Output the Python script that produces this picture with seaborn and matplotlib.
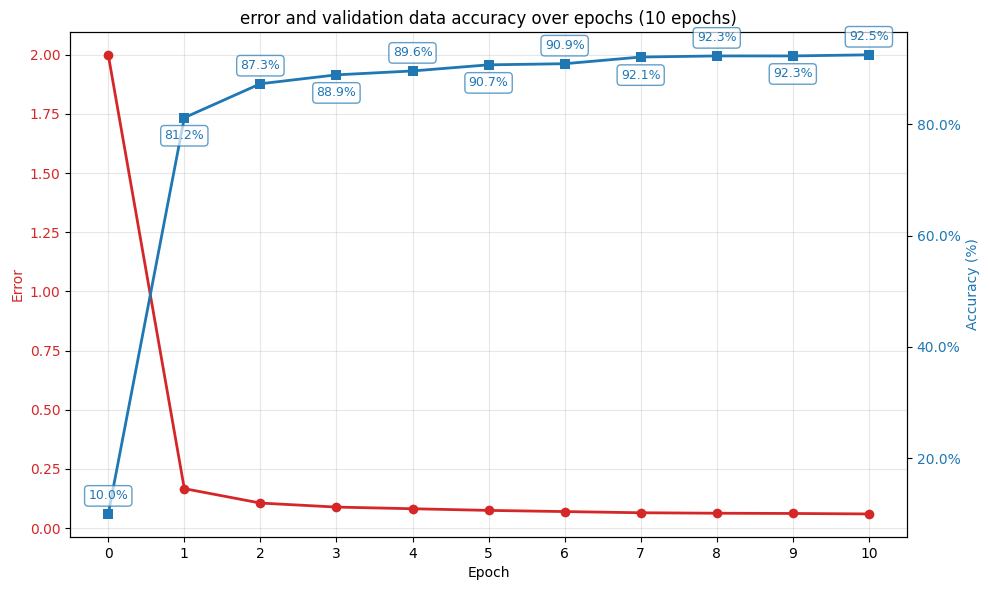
import matplotlib
matplotlib.use("Agg")
import matplotlib.pyplot as plt
import seaborn as sns
import pandas as pd
from matplotlib.ticker import PercentFormatter

epochs = [0, 1, 2, 3, 4, 5, 6, 7, 8, 9, 10]
error = [2.0, 0.167, 0.106, 0.089, 0.082, 0.075, 0.070, 0.065, 0.063, 0.062, 0.060]
accuracy = [10.0, 81.2, 87.3, 88.9, 89.6, 90.7, 90.9, 92.1, 92.3, 92.3, 92.5]

df = pd.DataFrame({"epoch": epochs, "error": error, "accuracy": accuracy})

fig, ax1 = plt.subplots(figsize=(9.89, 5.9), dpi=100)

sns.lineplot(data=df, x="epoch", y="error", ax=ax1, color="tab:red",
             marker="o", markersize=7, markeredgewidth=0, linewidth=2)
ax1.set_xlabel("Epoch")
ax1.set_ylabel("Error", color="tab:red")
ax1.tick_params(axis="y", labelcolor="tab:red")
ax1.set_xticks(epochs)
ax1.grid(True, alpha=0.3)

ax2 = ax1.twinx()
sns.lineplot(data=df, x="epoch", y="accuracy", ax=ax2, color="tab:blue",
             marker="s", markersize=7, markeredgewidth=0, linewidth=2)
ax2.set_ylabel("Accuracy (%)", color="tab:blue")
ax2.tick_params(axis="y", labelcolor="tab:blue")
ax2.yaxis.set_major_formatter(PercentFormatter(xmax=100, decimals=1))

for i, (e, a) in enumerate(zip(epochs, accuracy)):
    off = 13 if i % 2 == 0 else -13
    ax2.annotate(f"{a:.1f}%", (e, a), xytext=(0, off), textcoords="offset points",
                 ha="center", va="center", fontsize=9, color="tab:blue",
                 bbox=dict(boxstyle="round,pad=0.3", fc="white", ec="tab:blue", alpha=0.7))

ax1.set_title("error and validation data accuracy over epochs (10 epochs)")
fig.subplots_adjust(left=0.071, right=0.917, top=0.946, bottom=0.09)
fig.savefig("out.png")
